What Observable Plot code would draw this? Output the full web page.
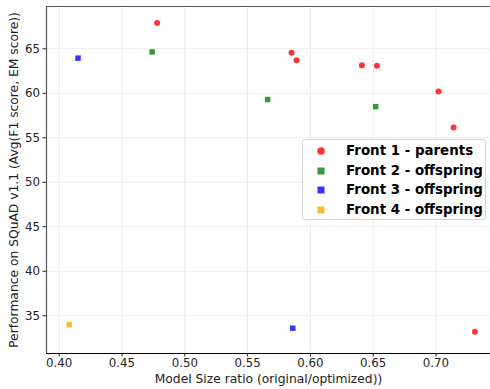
<!DOCTYPE html>
<html>
<head>
<meta charset="utf-8">
<script src="https://cdn.jsdelivr.net/npm/d3@7"></script>
<script src="https://cdn.jsdelivr.net/npm/@observablehq/plot@0.6"></script>
<style>
  html, body { margin: 0; padding: 0; background: #fff; }
  #wrap { position: relative; width: 490px; height: 389px; font-family: "DejaVu Sans", sans-serif; }
  #legend { position: absolute; left: 302px; top: 139px; width: 184px; height: 81px; box-sizing: border-box;
    border: 1px solid #d6d6d6; border-radius: 3px; background: rgba(255,255,255,0.85); }
  .row { position: absolute; left: 0; height: 20px; }
  .row svg { position: absolute; left: 13px; }
  .row span { position: absolute; left: 43px; white-space: nowrap; font-weight: bold; font-size: 13.4px; color: #000; line-height: 20px; top: 0; }
</style>
</head>
<body>
<div id="wrap"><div id="legend"></div></div>
<script>
// Data
const front1X = [0.478, 0.585, 0.589, 0.641, 0.653, 0.702, 0.714, 0.731];
const front1Y = [67.9, 64.55, 63.7, 63.15, 63.1, 60.2, 56.15, 33.2];
const front2X = [0.474, 0.566, 0.652];
const front2Y = [64.65, 59.3, 58.5];
const front3X = [0.415, 0.586];
const front3Y = [63.95, 33.6];
const front4X = [0.408];
const front4Y = [34.0];

const seriesNames = ["Front 1 - parents", "Front 2 - offspring", "Front 3 - offspring", "Front 4 - offspring"];
const seriesColors = ["#ff3333", "#339933", "#3333ff", "#ffb833"];
const seriesSymbols = ["circle", "square", "square", "square"];

const xTicks = [0.40, 0.45, 0.50, 0.55, 0.60, 0.65, 0.70];
const yTicks = [35, 40, 45, 50, 55, 60, 65];
const xLabel = "Model Size ratio (original/optimized))";
const yLabel = "Performance on SQuAD v1.1 (Avg(F1 score, EM score))";

const xs = [front1X, front2X, front3X, front4X];
const ys = [front1Y, front2Y, front3Y, front4Y];
const data = [];
xs.forEach((arr, s) => arr.forEach((x, i) => data.push({x, y: ys[s][i], s})));

const xDomain = [0.3899, 0.7434];
const yDomain = [30.76, 69.75];

const chart = Plot.plot({
  width: 490,
  height: 389,
  marginLeft: 46,
  marginRight: 0,
  marginTop: 6,
  marginBottom: 36,
  style: {fontFamily: "DejaVu Sans, sans-serif", background: "transparent", overflow: "visible"},
  x: {domain: xDomain},
  y: {domain: yDomain},
  marks: [
    Plot.gridX(xTicks, {stroke: "#ebebeb", strokeOpacity: 1, strokeWidth: 1}),
    Plot.gridY(yTicks, {stroke: "#ebebeb", strokeOpacity: 1, strokeWidth: 1}),
    Plot.ruleY([yDomain[1]], {stroke: "#555", strokeWidth: 1.2}),
    Plot.ruleX([xDomain[0]], {stroke: "#555", strokeWidth: 1.2}),
    Plot.ruleY([yDomain[0]], {stroke: "#000", strokeWidth: 1.2}),
    Plot.axisX(xTicks, {tickFormat: d3.format(".2f"), tickSize: 3.5, fontSize: 11.8, label: null, tickPadding: 2, color: "#222"}),
    Plot.axisY(yTicks, {tickSize: 3.5, fontSize: 11.8, label: null, tickPadding: 3, color: "#222"}),
    Plot.text([xLabel], {frameAnchor: "bottom", dy: 29, text: d => d, fontSize: 12.3, fill: "#222", textAnchor: "middle"}),
    Plot.text([yLabel], {frameAnchor: "left", dx: -32, rotate: -90, text: d => d, fontSize: 12.3, fill: "#222", textAnchor: "middle"}),
    Plot.dot(data, {x: "x", y: "y", r: d => seriesSymbols[d.s] === "circle" ? 4 : 4.2,
      symbol: d => seriesSymbols[d.s], fill: d => seriesColors[d.s], stroke: "none"})
  ]
});
document.getElementById("wrap").prepend(chart);

const legend = document.getElementById("legend");
seriesNames.forEach((name, i) => {
  const row = document.createElement("div");
  row.className = "row";
  row.style.top = (1 + i * 19.7) + "px";
  const mk = seriesSymbols[i] === "circle"
    ? `<circle cx="5" cy="5" r="3.8" fill="${seriesColors[i]}"/>`
    : `<rect x="1.5" y="1.5" width="7" height="7" fill="${seriesColors[i]}"/>`;
  row.innerHTML = `<svg width="10" height="10" style="top:5px">${mk}</svg><span>${name}</span>`;
  legend.appendChild(row);
});
</script>
</body>
</html>
